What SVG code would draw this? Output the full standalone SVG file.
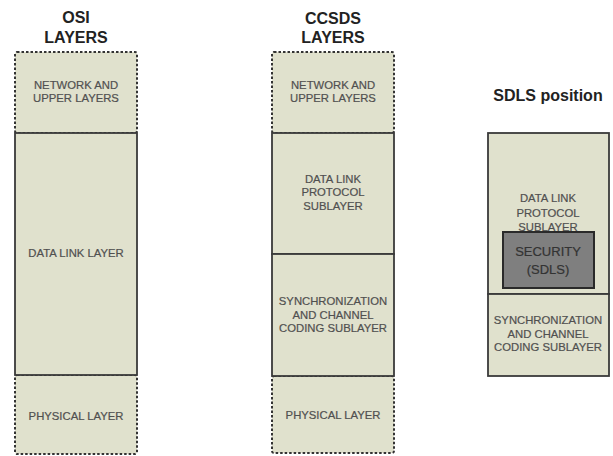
<svg xmlns="http://www.w3.org/2000/svg" width="613" height="456" viewBox="0 0 613 456">
<style>
.title{font-family:"Liberation Sans",Arial,sans-serif;font-weight:bold;font-size:16px;fill:#222;text-anchor:middle}
.lbl{font-family:"Liberation Sans",Arial,sans-serif;font-size:11.3px;fill:#505050;stroke:#505050;stroke-width:0.2;text-anchor:middle}
.sec{font-family:"Liberation Sans",Arial,sans-serif;font-size:13px;fill:#333;stroke:#333;stroke-width:0.2;text-anchor:middle}
.solid{fill:#e0e1cd;stroke:#3a3a3a;stroke-width:1.8}
.dash{fill:#e0e1cd;stroke:#333;stroke-width:2;stroke-dasharray:2.5 2}
</style>
<rect width="613" height="456" fill="#fff"/>
<g id="osi">
<text class="title" x="76" y="23">OSI</text>
<text class="title" x="76" y="43">LAYERS</text>
<g id="osi-network">
<rect class="dash" x="15" y="52" width="122" height="81" rx="2"/>
<text class="lbl" x="76" y="89">NETWORK AND</text>
<text class="lbl" x="76" y="102">UPPER LAYERS</text>
</g>
<g id="osi-physical">
<rect class="dash" x="15" y="375" width="122" height="79" rx="2"/>
<text class="lbl" x="76" y="420">PHYSICAL LAYER</text>
</g>
<g id="osi-datalink">
<rect class="solid" x="15" y="133" width="122" height="242"/>
<text class="lbl" x="76" y="257">DATA LINK LAYER</text>
</g>
</g>
<g id="ccsds">
<text class="title" x="333" y="24">CCSDS</text>
<text class="title" x="333" y="43">LAYERS</text>
<g id="ccsds-network">
<rect class="dash" x="272" y="52" width="122" height="81" rx="2"/>
<text class="lbl" x="333" y="89">NETWORK AND</text>
<text class="lbl" x="333" y="102">UPPER LAYERS</text>
</g>
<g id="ccsds-physical">
<rect class="dash" x="272" y="376" width="122" height="77" rx="2"/>
<text class="lbl" x="333" y="419">PHYSICAL LAYER</text>
</g>
<g id="ccsds-datalink">
<rect class="solid" x="272" y="133" width="122" height="121"/>
<text class="lbl" x="333" y="183">DATA LINK</text>
<text class="lbl" x="333" y="196">PROTOCOL</text>
<text class="lbl" x="333" y="210">SUBLAYER</text>
</g>
<g id="ccsds-sync">
<rect class="solid" x="272" y="254" width="122" height="122"/>
<text class="lbl" x="333" y="305">SYNCHRONIZATION</text>
<text class="lbl" x="333" y="319">AND CHANNEL</text>
<text class="lbl" x="333" y="332">CODING SUBLAYER</text>
</g>
</g>
<g id="sdls">
<text class="title" x="548" y="101">SDLS position</text>
<g id="sdls-datalink">
<rect class="solid" x="488" y="133" width="121" height="161"/>
<text class="lbl" x="548" y="202">DATA LINK</text>
<text class="lbl" x="548" y="217">PROTOCOL</text>
<text class="lbl" x="548" y="231">SUBLAYER</text>
</g>
<g id="sdls-security">
<rect x="503" y="232" width="91" height="56" fill="#7f7f7f" stroke="#2a2a2a" stroke-width="2"/>
<text class="sec" x="548" y="256">SECURITY</text>
<text class="sec" x="548" y="274">(SDLS)</text>
</g>
<g id="sdls-sync">
<rect class="solid" x="488" y="294" width="121" height="82"/>
<text class="lbl" x="548" y="324">SYNCHRONIZATION</text>
<text class="lbl" x="548" y="338">AND CHANNEL</text>
<text class="lbl" x="548" y="351">CODING SUBLAYER</text>
</g>
</g>
<g id="connectors"></g>
</svg>
